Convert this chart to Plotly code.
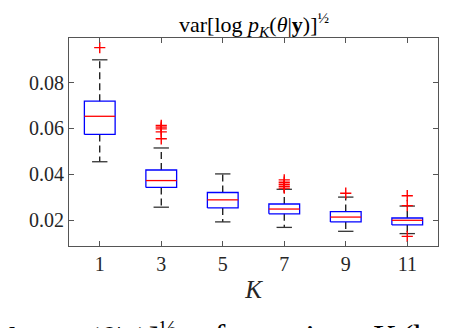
import plotly.graph_objects as go

# Box statistics, one entry per K
K = [1, 3, 5, 7, 9, 11]
q1 = [0.0574, 0.0343, 0.0254, 0.0228, 0.0193, 0.0180]
median = [0.0653, 0.0373, 0.0289, 0.0249, 0.0214, 0.0200]
q3 = [0.0719, 0.0419, 0.0321, 0.0271, 0.0238, 0.0210]
whisker_lo = [0.0455, 0.0257, 0.0193, 0.0169, 0.0152, 0.0142]
whisker_hi = [0.0899, 0.0515, 0.0402, 0.0335, 0.0301, 0.0262]
outliers = [
    [0.0952],
    [0.0555, 0.0585, 0.0598, 0.0606, 0.0613],
    [],
    [0.0340, 0.0348, 0.0357, 0.0366, 0.0376],
    [0.0318],
    [0.0130, 0.0264, 0.0307],
]
y_ticks = [0.02, 0.04, 0.06, 0.08]
y_ticktext = ["0.02", "0.04", "0.06", "0.08"]

BOX_HALF = 0.5
CAP_HALF = 0.25
SERIF = "Liberation Serif"

fig = go.Figure()

for i, k in enumerate(K):
    # dashed whiskers
    for a, b in [(q3[i], whisker_hi[i]), (q1[i], whisker_lo[i])]:
        fig.add_trace(go.Scatter(
            x=[k, k], y=[a, b], mode="lines",
            line=dict(color="black", width=1.2, dash="7px,4px"),
            hoverinfo="skip", showlegend=False))
    # whisker caps
    for v in [whisker_hi[i], whisker_lo[i]]:
        fig.add_trace(go.Scatter(
            x=[k - CAP_HALF, k + CAP_HALF], y=[v, v], mode="lines",
            line=dict(color="#333333", width=1.3),
            hoverinfo="skip", showlegend=False))
    # box
    fig.add_trace(go.Scatter(
        x=[k - BOX_HALF, k + BOX_HALF, k + BOX_HALF, k - BOX_HALF, k - BOX_HALF],
        y=[q1[i], q1[i], q3[i], q3[i], q1[i]],
        mode="lines", line=dict(color="#0000ff", width=1.3),
        hoverinfo="skip", showlegend=False))
    # median
    fig.add_trace(go.Scatter(
        x=[k - BOX_HALF, k + BOX_HALF], y=[median[i], median[i]], mode="lines",
        line=dict(color="#ff0000", width=1.3),
        hoverinfo="skip", showlegend=False))
    # outliers
    if outliers[i]:
        fig.add_trace(go.Scatter(
            x=[k] * len(outliers[i]), y=outliers[i], mode="markers",
            marker=dict(symbol="cross-thin", size=8,
                        line=dict(color="#ff0000", width=1.4)),
            hoverinfo="skip", showlegend=False))

axis_common = dict(
    showline=True, linecolor="#555555", linewidth=1, mirror="ticks",
    ticks="inside", ticklen=5, tickcolor="#555555", tickwidth=1,
    showgrid=False, zeroline=False, automargin=False,
    tickfont=dict(family=SERIF, size=20, color="#262626"),
)

fig.update_layout(
    width=464, height=328,
    margin=dict(l=61, r=34, t=30, b=90),
    paper_bgcolor="white", plot_bgcolor="white",
    xaxis=dict(
        axis_common, range=[0, 12], tickvals=K,
        ticktext=[str(k) for k in K],
        title=dict(text="<i>K</i>", font=dict(family=SERIF, size=25, color="#262626"),
                   standoff=6),
    ),
    yaxis=dict(
        axis_common, range=[0.0088, 0.0994], tickvals=y_ticks,
        ticktext=y_ticktext,
    ),
)

# title as an annotation so its place is set directly
fig.add_annotation(
    text="var[log <i>p</i><sub><i>K</i></sub>(<i>θ</i>|<b>y</b>)]<sup>½</sup>",
    xref="paper", yref="paper", x=(254 - 69) / 369, y=(245 - 23) / 208,
    xanchor="center", yanchor="middle", showarrow=False,
    font=dict(family=SERIF, size=22, color="black"),
)

# caption of the page, cut by the bottom edge
fig.add_annotation(
    text="[log <i>p</i><sub><i>K</i></sub>(<b><i>θ</i></b>|<b>y</b>)]<sup>½</sup>",
    xref="paper", yref="paper", x=(-4 - 69) / 369, y=(245 - 337) / 208,
    xanchor="left", yanchor="middle", showarrow=False,
    font=dict(family=SERIF, size=32, color="black"),
)
fig.add_annotation(
    text="for various <i>K</i> (horizontal",
    xref="paper", yref="paper", x=(212 - 69) / 369, y=(245 - 336) / 208,
    xanchor="left", yanchor="middle", showarrow=False,
    font=dict(family=SERIF, size=34, color="black"),
)

fig.write_html("out.html")
